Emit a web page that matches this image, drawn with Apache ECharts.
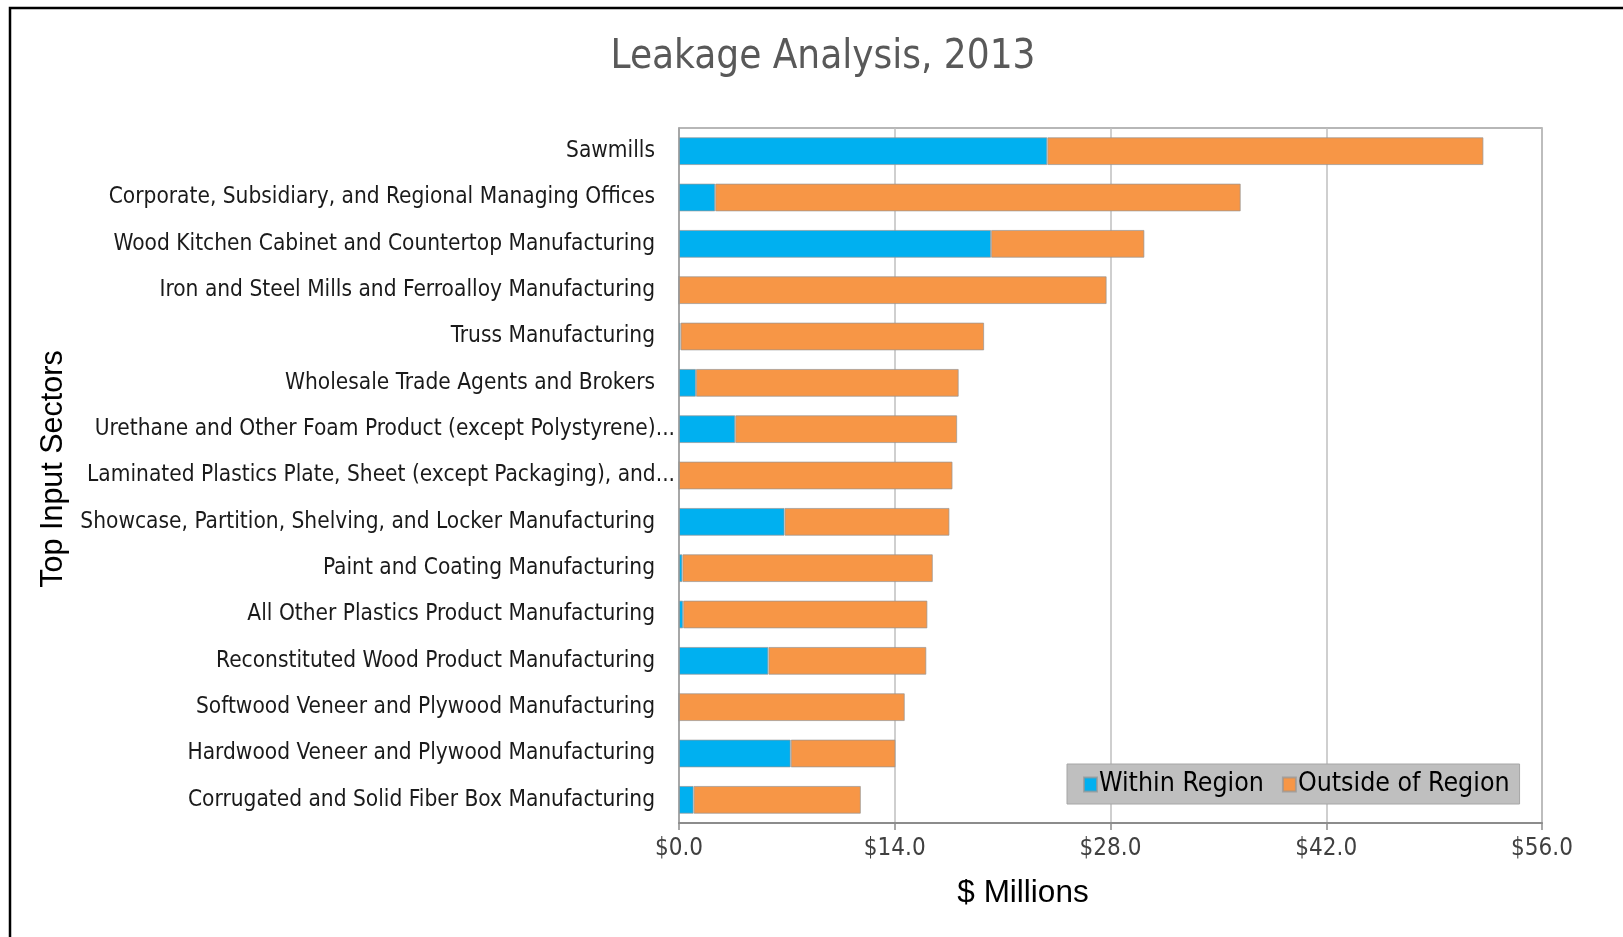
<!DOCTYPE html>
<html>
<head>
<meta charset="utf-8">
<title>Leakage Analysis, 2013</title>
<script src="https://cdn.jsdelivr.net/npm/echarts@6/dist/echarts.min.js"></script>
<style>
  html, body { margin: 0; padding: 0; background: #fff; }
  #chart { width: 1623px; height: 937px; }
</style>
</head>
<body>
<div id="chart"></div>
<script>
// sectors, top to bottom
const sectors = [
  'Sawmills',
  'Corporate, Subsidiary, and Regional Managing Offices',
  'Wood Kitchen Cabinet and Countertop Manufacturing',
  'Iron and Steel Mills and Ferroalloy Manufacturing',
  'Truss Manufacturing',
  'Wholesale Trade Agents and Brokers',
  'Urethane and Other Foam Product (except Polystyrene)...',
  'Laminated Plastics Plate, Sheet (except Packaging), and...',
  'Showcase, Partition, Shelving, and Locker Manufacturing',
  'Paint and Coating Manufacturing',
  'All Other Plastics Product Manufacturing',
  'Reconstituted Wood Product Manufacturing',
  'Softwood Veneer and Plywood Manufacturing',
  'Hardwood Veneer and Plywood Manufacturing',
  'Corrugated and Solid Fiber Box Manufacturing'
];
// $ millions
const withinRegion = [23.9, 2.35, 20.25, 0, 0.1, 1.1, 3.65, 0, 6.85, 0.22, 0.27, 5.8, 0, 7.25, 0.95];
const outsideRegion = [28.3, 34.1, 9.95, 27.75, 19.7, 17.05, 14.4, 17.75, 10.7, 16.25, 15.85, 10.25, 14.65, 6.8, 10.85];
const xTicks = [0, 14, 28, 42, 56];

const FONT = '"DejaVu Sans Condensed", "Liberation Sans", sans-serif';
const FONT2 = '"Liberation Sans", Arial, sans-serif';

// truncated labels run closer to the axis, like Excel does
const categoryData = sectors.map(s => s.endsWith('...')
  ? { value: s, textStyle: { padding: [0, -20, 0, 0] } }
  : s);

const chart = echarts.init(document.getElementById('chart'));

const option = {
  animation: false,
  color: ['#00b0f0', '#f79646'],
  grid: {
    left: 679, right: 81, top: 128, bottom: 114,
    show: true, borderColor: '#a0a0a0', borderWidth: 1.5
  },
  legend: {
    data: ['Within Region', 'Outside of Region'],
    left: 1067, top: 764,
    backgroundColor: '#bfbfbf',
    borderColor: '#a6a6a6', borderWidth: 1,
    padding: [7, 10, 6, 16],
    icon: 'rect', itemWidth: 13, itemHeight: 14, itemGap: 18,
    textStyle: { fontFamily: FONT, fontSize: 26.5, color: '#000', padding: [2, 0, 0, -3] }
  },
  xAxis: {
    type: 'value',
    min: xTicks[0], max: xTicks[xTicks.length - 1], interval: 14,
    axisLine: { show: true, lineStyle: { color: '#8c8c8c', width: 2 } },
    axisTick: { show: true, length: 7, lineStyle: { color: '#8c8c8c', width: 1.5 } },
    splitLine: { lineStyle: { color: '#bfbfbf', width: 1.5 } },
    axisLabel: {
      fontFamily: FONT, fontSize: 24, color: '#404040', margin: 14,
      formatter: v => '$' + v.toFixed(1)
    }
  },
  yAxis: {
    type: 'category',
    data: categoryData,
    inverse: true,
    axisLine: { show: true, lineStyle: { color: '#a0a0a0', width: 1.5 } },
    axisTick: { show: false },
    axisLabel: { fontFamily: FONT, fontSize: 22.5, color: '#1a1a1a', margin: 24 }
  },
  series: [
    {
      name: 'Within Region', type: 'bar', stack: 'total',
      data: withinRegion, barCategoryGap: '40%',
      itemStyle: { borderColor: 'rgba(150,150,150,0.7)', borderWidth: 1 }
    },
    {
      name: 'Outside of Region', type: 'bar', stack: 'total',
      data: outsideRegion, barCategoryGap: '40%',
      itemStyle: { borderColor: 'rgba(150,150,150,0.7)', borderWidth: 1 }
    }
  ],
  graphic: [
    // outer frame (only top and left edges are visible)
    {
      type: 'polyline', silent: true,
      shape: { points: [[10, 940], [10, 8], [1630, 8]] },
      style: { stroke: '#000', lineWidth: 2.5, fill: null }
    },
    {
      type: 'text', x: 823, y: 58,
      style: { text: 'Leakage Analysis, 2013', fontFamily: FONT, fontSize: 40,
        fill: '#595959', align: 'center', verticalAlign: 'middle' }
    },
    {
      type: 'text', x: 1023, y: 893,
      style: { text: '$ Millions', fontFamily: FONT2, fontSize: 31.5,
        fill: '#000', align: 'center', verticalAlign: 'middle' }
    },
    {
      type: 'text', x: 54, y: 469, rotation: Math.PI / 2,
      style: { text: 'Top Input Sectors', fontFamily: FONT2, fontSize: 30.5,
        fill: '#000', align: 'center', verticalAlign: 'middle' }
    }
  ]
};

chart.setOption(option);
</script>
</body>
</html>
